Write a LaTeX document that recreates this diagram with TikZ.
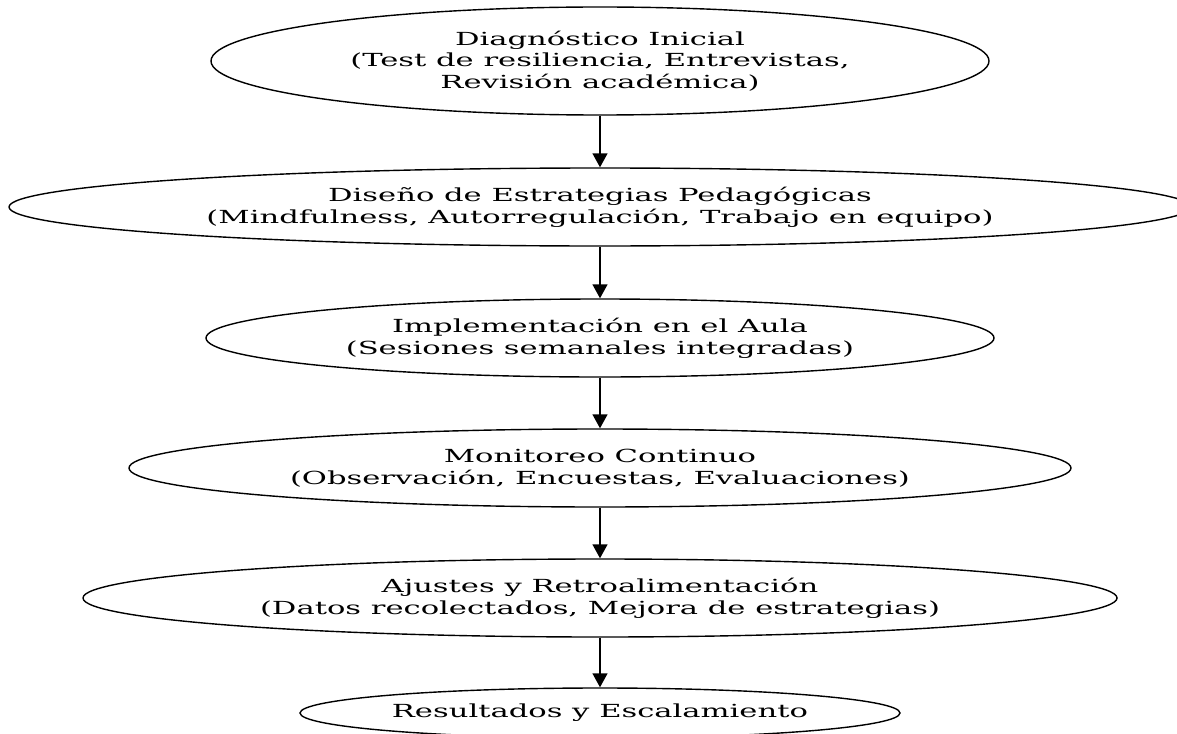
\documentclass[tikz,border=0pt]{standalone}
\usepackage{fontspec}
\setmainfont{DejaVu Serif}[FakeStretch=1.7]
\usetikzlibrary{shapes.geometric,arrows.meta}
\tikzset{
  stage/.style={ellipse, draw=black, line width=1.4pt, inner sep=0pt, align=center,
    font=\fontsize{18}{21.7}\selectfont},
  arr/.style={draw=black, line width=1.4pt, -{Triangle[length=14pt,width=15pt]}}
}
\begin{document}
\begin{tikzpicture}[x=1pt,y=1pt]
\useasboundingbox (0,0) rectangle (1177,-733);
\clip (0,0) rectangle (1177,-733);
\fill[white] (0,0) rectangle (1177,-733);
\node[stage, minimum width=778pt, minimum height=108pt] (e1) at (600,-61)
  {Diagnóstico Inicial\\(Test de resiliencia, Entrevistas,\\Revisión académica)};
\node[stage, minimum width=1182pt, minimum height=78pt] (e2) at (600,-207)
  {Diseño de Estrategias Pedagógicas\\(Mindfulness, Autorregulación, Trabajo en equipo)};
\node[stage, minimum width=788pt, minimum height=78pt] (e3) at (600,-338)
  {Implementación en el Aula\\(Sesiones semanales integradas)};
\node[stage, minimum width=942pt, minimum height=78pt] (e4) at (600,-468)
  {Monitoreo Continuo\\(Observación, Encuestas, Evaluaciones)};
\node[stage, minimum width=1034pt, minimum height=78pt] (e5) at (600,-598)
  {Ajustes y Retroalimentación\\(Datos recolectados, Mejora de estrategias)};
\node[stage, minimum width=600pt, minimum height=50pt] (e6) at (600,-713)
  {Resultados y Escalamiento};
\draw[arr] (e1) -- (e2);
\draw[arr] (e2) -- (e3);
\draw[arr] (e3) -- (e4);
\draw[arr] (e4) -- (e5);
\draw[arr] (e5) -- (e6);
\end{tikzpicture}
\end{document}
